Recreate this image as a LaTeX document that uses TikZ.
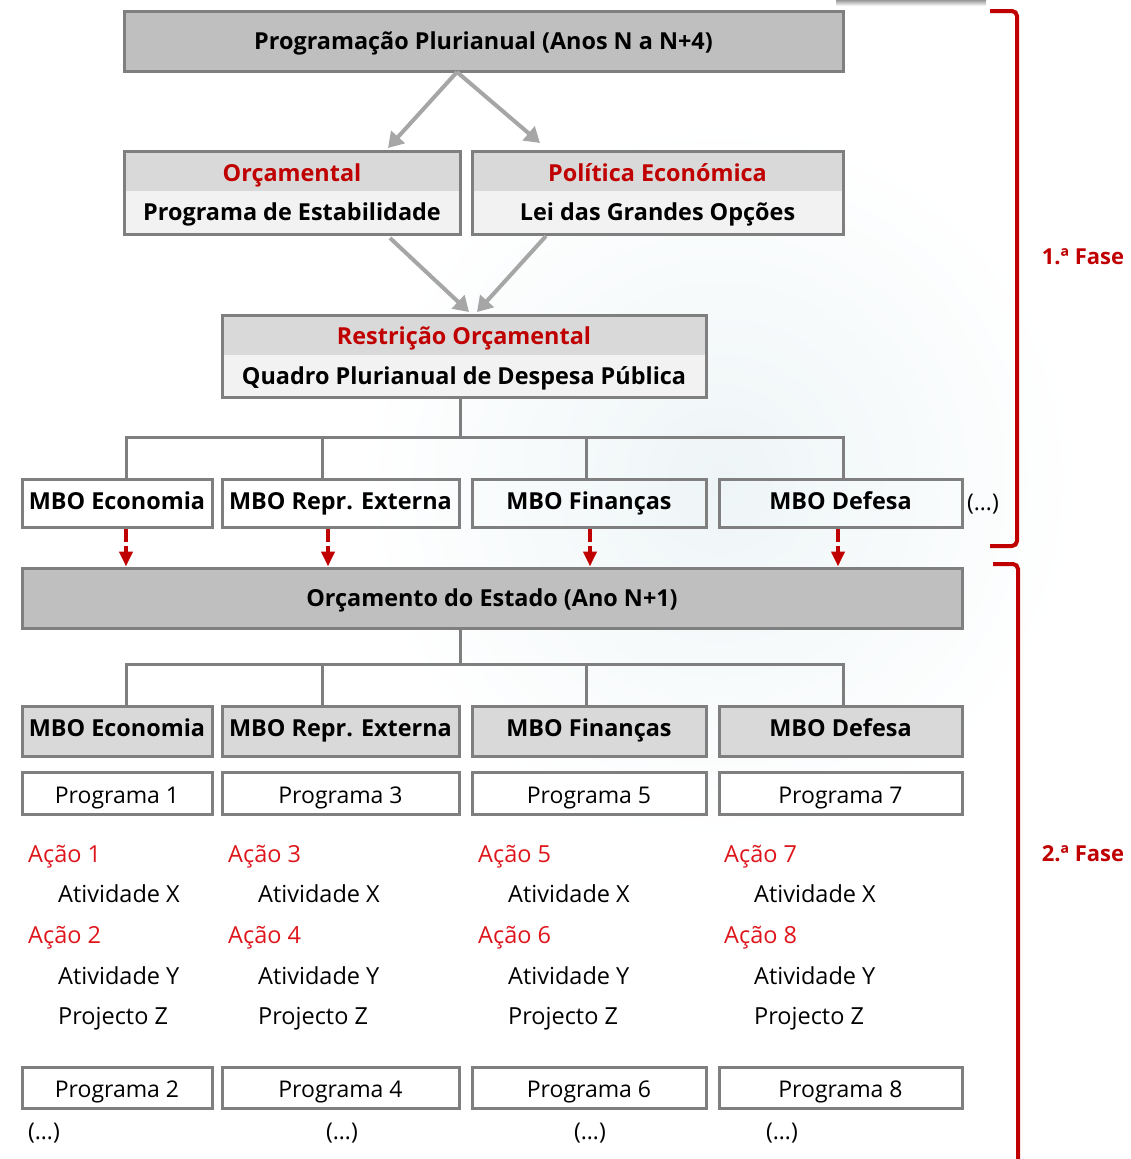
\documentclass[tikz,border=0pt]{standalone}
\usepackage{fontspec}
\setmainfont{Open Sans}
\usetikzlibrary{arrows.meta}
\definecolor{bordergray}{HTML}{7F7F7F}
\definecolor{dgray}{HTML}{BFBFBF}
\definecolor{lgray}{HTML}{D9D9D9}
\definecolor{vlgray}{HTML}{F2F2F2}
\definecolor{argray}{HTML}{A6A6A6}
\definecolor{darkred}{HTML}{C00000}
\definecolor{acored}{RGB}{222,22,28}
\definecolor{glow}{HTML}{EEF5F7}
\tikzset{
  box/.style={draw=bordergray,line width=3pt,inner sep=0pt,rectangle},
  btxt/.style={font=\fontsize{23.4}{28}\selectfont\bfseries,inner sep=0pt,anchor=base},
  rtxt/.style={font=\fontsize{23}{28}\selectfont,inner sep=0pt,anchor=base},
  ltxt/.style={font=\fontsize{23.5}{28}\selectfont,inner sep=0pt,anchor=base west},
  tree/.style={draw=bordergray,line width=3pt},
  garrow/.style={draw=argray,line width=4pt,-{Triangle[length=15pt,width=18pt]}},
  rarrow/.style={draw=darkred,line width=4pt,dash pattern=on 13pt off 4pt,-{Triangle[length=15pt,width=13pt]}},
  brk/.style={draw=darkred,line width=4pt,rounded corners=5pt},
  fase/.style={font=\fontsize{22}{26}\selectfont\bfseries,text=darkred,inner sep=0pt,anchor=base}
}
\begin{document}
\begin{tikzpicture}[x=1pt,y=-1pt]
\useasboundingbox (0,0) rectangle (1130,1159);
\fill[white] (0,0) rectangle (1130,1159);
\shade[inner color=glow,outer color=white] (720,480) circle (360pt);
\shade[top color=gray!80,bottom color=white] (836,0) rectangle (986,6);

% top box
\node[box,fill=dgray,minimum width=719pt,minimum height=60pt] (top) at (483.5,41) {};
\node[btxt] (topt) at (483.5,49) {Programação Plurianual (Anos N a N+4)};

% Orçamental box
\node[box,fill=vlgray,minimum width=336pt,minimum height=83pt] (orc) at (292,192.5) {};
\fill[lgray] (124,151) rectangle (460,191);
\draw[box] (124,151) rectangle (460,234);
\node[btxt,text=darkred] (orct) at (292,181) {Orçamental};
\node[btxt] (orcb) at (292,220) {Programa de Estabilidade};

% Política box
\node[box,fill=vlgray,minimum width=371pt,minimum height=83pt] (pol) at (657.5,192.5) {};
\fill[lgray] (472,151) rectangle (843,191);
\draw[box] (472,151) rectangle (843,234);
\node[btxt,text=darkred] (polt) at (657.5,181) {Política Económica};
\node[btxt] (polb) at (657.5,220) {Lei das Grandes Opções};

% Restrição box
\node[box,fill=vlgray,minimum width=484pt,minimum height=82pt] (res) at (464,356) {};
\fill[lgray] (222,315) rectangle (706,355);
\draw[box] (222,315) rectangle (706,397);
\node[btxt,text=darkred] (rest) at (464,344) {Restrição Orçamental};
\node[btxt] (resb) at (464,384) {Quadro Plurianual de Despesa Pública};

% gray arrows
\coordinate (g0) at (457,72);
\coordinate (g1) at (388,148);
\coordinate (g2) at (540,143);
\coordinate (g3) at (390,238);
\coordinate (g4) at (546,236);
\coordinate (g5) at (469,312);
\coordinate (g6) at (477,312);
\draw[garrow] (g0) -- (g1);
\draw[garrow] (g0) -- (g2);
\draw[garrow] (g3) -- (g5);
\draw[garrow] (g4) -- (g6);

% Orçamento do Estado
\node[box,fill=dgray,minimum width=940pt,minimum height=60pt] (oe) at (492,598) {};
\node[btxt] (oet) at (492,606) {Orçamento do Estado (Ano N+1)};

% columns
\foreach \i/\cx/\w/\lab/\tx/\ix/\pA/\pB/\dx/\bx/\rx in {
  1/117/190/MBO Economia/28/58/1/2/44/126/126,
  2/340.5/237/MBO Repr. Externa/228/258/3/4/342/322/328,
  3/589/234/MBO Finanças/478/508/5/6/590/586/590,
  4/840.5/243/MBO Defesa/724/754/7/8/782/843/838}{
  \node[box,minimum width=\w pt,minimum height=48pt] (ma\i) at (\cx,503) {};
  \node[btxt] (mat\i) at (\cx,509) {\lab};
  \node[box,fill=lgray,minimum width=\w pt,minimum height=50pt] (mb\i) at (\cx,731) {};
  \node[btxt] (mbt\i) at (\cx,736) {\lab};
  \node[box,fill=white,minimum width=\w pt,minimum height=42pt] (pa\i) at (\cx,793) {};
  \node[rtxt] (pat\i) at (\cx,803) {Programa \pA};
  \node[ltxt,text=acored] (aca\i) at (\tx,862) {Ação \pA};
  \node[ltxt] (ax\i) at (\ix,902) {Atividade X};
  \node[ltxt,text=acored] (acb\i) at (\tx,943) {Ação \pB};
  \node[ltxt] (ay\i) at (\ix,984) {Atividade Y};
  \node[ltxt] (pz\i) at (\ix,1024) {Projecto Z};
  \node[box,fill=white,minimum width=\w pt,minimum height=41pt] (pb\i) at (\cx,1087.5) {};
  \node[rtxt] (pbt\i) at (\cx,1097) {Programa \pB};
  \node[rtxt] (dd\i) at (\dx,1139) {(…)};
  \coordinate (ja\i) at (\bx,437);
  \coordinate (jb\i) at (\bx,664);
  \coordinate (rr\i) at (\rx,548);
  \draw[tree] (ja\i) -- (ja\i |- ma\i.north);
  \draw[tree] (jb\i) -- (jb\i |- mb\i.north);
  \draw[rarrow] (rr\i |- ma\i.south) -- (rr\i |- oe.north);
}
\node[rtxt] (ddr) at (983,510) {(…)};

% tree buses
\coordinate (j1) at (460,437);
\coordinate (j2) at (460,664);
\draw[tree] (j1 |- res.south) -- (j1);
\draw[tree,line cap=rect] (ja1) -- (ja4);
\draw[tree] (j2 |- oe.south) -- (j2);
\draw[tree,line cap=rect] (jb1) -- (jb4);

% phase brackets
\coordinate (f1a) at (990,11);
\coordinate (f1b) at (990,546);
\coordinate (f2a) at (993,564);
\coordinate (f2b) at (1018,1175);
\draw[brk] (f1a) -- (1017,11) -- (1017,546) -- (f1b);
\draw[brk] (f2a) -- (1018,564) -- (f2b);
\node[fase] (fase1) at (1083,264) {1.ª Fase};
\node[fase] (fase2) at (1083,861) {2.ª Fase};
\end{tikzpicture}
\end{document}
